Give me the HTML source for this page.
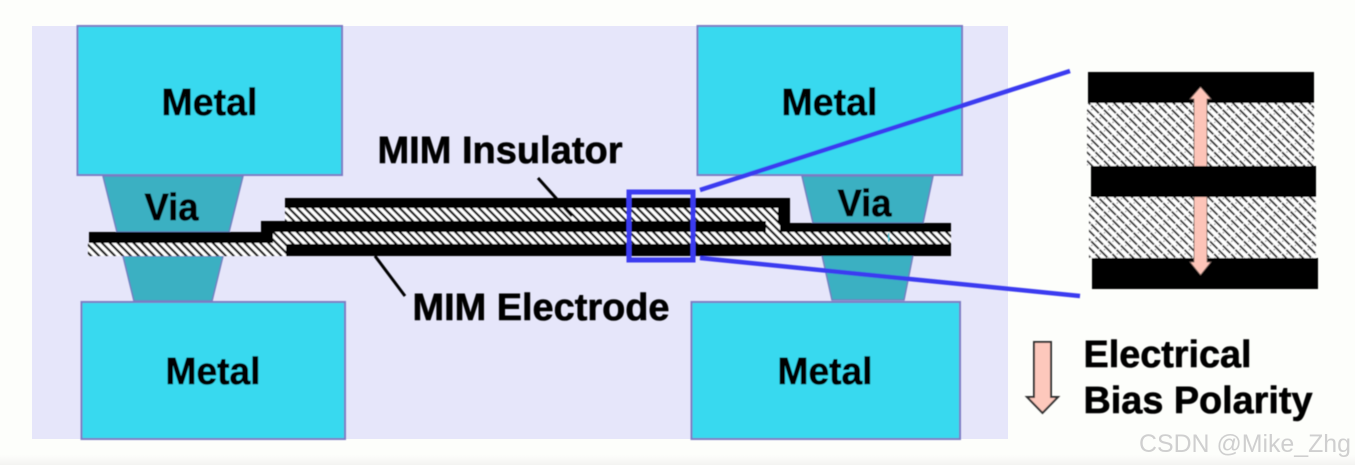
<!DOCTYPE html>
<html>
<head>
<meta charset="utf-8">
<style>
html,body{margin:0;padding:0;background:#fdfefb;width:1355px;height:465px;overflow:hidden}
svg{display:block}
text{font-family:"Liberation Sans",sans-serif;font-weight:bold;fill:#050505}
.t{stroke:#050505;stroke-width:0.6px}
</style>
</head>
<body>
<svg width="1355" height="465" viewBox="0 0 1355 465" xmlns="http://www.w3.org/2000/svg">
<defs>
<pattern id="h" width="5.600" height="5.600" patternUnits="userSpaceOnUse" patternTransform="rotate(-45)">
<rect width="5.600" height="5.600" fill="#fff"/>
<rect x="0" width="2.300" height="5.600" fill="#111"/>
</pattern>
<pattern id="h2" width="6" height="12" patternUnits="userSpaceOnUse" patternTransform="rotate(-45)">
<rect width="6" height="12" fill="#fff"/>
<rect x="0" width="1.900" height="12" fill="#222"/>
<rect x="0" y="5" width="1.900" height="1.200" fill="#fff"/>
<rect x="3.900" y="9" width="1.100" height="1.100" fill="#555"/>
</pattern>
<linearGradient id="fade" x1="0" y1="0" x2="0" y2="1">
<stop offset="0" stop-color="#fdfefb"/>
<stop offset="1" stop-color="#f4f4f2"/>
</linearGradient>
<filter id="b" x="-2%" y="-2%" width="104%" height="104%"><feGaussianBlur stdDeviation="0.6"/></filter>
</defs>
<rect x="0" y="455" width="1355" height="10" fill="url(#fade)"/>
<rect x="32" y="26" width="976" height="413" fill="#e6e6fa"/>
<g filter="url(#b)">
<!-- vias -->
<g fill="#3ab0c2" stroke="#6f7fc0" stroke-width="1.500">
<polygon points="103,176 243,176 229,232 117,232"/>
<polygon points="123,256 223,256 212,301 134,301"/>
<polygon points="802,176 933,176 923,223 813,223"/>
<polygon points="822,255 913,255 904,300 832,300"/>
</g>
<!-- metals -->
<g fill="#38d9ef" stroke="#7b7bc4" stroke-width="2">
<rect x="77.500" y="26" width="264.500" height="149"/>
<rect x="697.500" y="26" width="264.500" height="149"/>
<rect x="81.500" y="302" width="263.500" height="137"/>
<rect x="691.500" y="302" width="268.500" height="137"/>
</g>
<!-- stack -->
<rect x="88" y="243" width="198" height="13" fill="url(#h)"/>
<rect x="285" y="208" width="493" height="14" fill="url(#h)"/>
<rect x="273" y="232" width="678" height="12" fill="url(#h)"/>
<rect x="766" y="222" width="14" height="10" fill="url(#h)"/>
<g fill="#000">
<rect x="89" y="232" width="184" height="11"/>
<rect x="261" y="221" width="505" height="11"/>
<rect x="261" y="221" width="12" height="22"/>
<rect x="285" y="198" width="505" height="10"/>
<rect x="778" y="198" width="12" height="25"/>
<rect x="780" y="223" width="171" height="9"/>
<rect x="286" y="244" width="665" height="12"/>
</g>
<rect x="888" y="233" width="1.500" height="9" fill="#38c0d0"/>
<!-- leaders -->
<line x1="538" y1="178" x2="572" y2="216" stroke="#000" stroke-width="3"/>
<line x1="375" y1="256" x2="405" y2="296" stroke="#000" stroke-width="3"/>
<!-- zoom box -->
<rect x="629" y="192" width="64" height="68" fill="none" stroke="#3a3af0" stroke-width="5"/>
<line x1="700" y1="190" x2="1070" y2="71" stroke="#3a3af0" stroke-width="4.500"/>
<line x1="700" y1="258" x2="1080" y2="296" stroke="#3a3af0" stroke-width="4.500"/>
<!-- detail -->
<rect x="1087" y="103" width="227" height="63" fill="url(#h2)"/>
<rect x="1089" y="197" width="227" height="61" fill="url(#h2)"/>
<rect x="1088" y="72" width="226" height="31" fill="#000"/>
<rect x="1092" y="258" width="226" height="31" fill="#000"/>
<polygon points="1200.500,87 1211,99 1207,99 1207,262 1211,262 1200.500,275 1190,262 1194,262 1194,99 1190,99" fill="#fdc4b8" stroke="#6b5a55" stroke-width="0.800"/>
<rect x="1091" y="166" width="225" height="31" fill="#000"/>
<!-- legend arrow -->
<polygon points="1034,342 1051,342 1051,397 1058,397 1042.500,413 1027,397 1034,397" fill="#fdc8bc" stroke="#333" stroke-width="2"/>
<!-- labels -->
<text class="t" x="161.500" y="115" font-size="38" textLength="96" lengthAdjust="spacingAndGlyphs">Metal</text>
<text class="t" x="781.500" y="115" font-size="38" textLength="96" lengthAdjust="spacingAndGlyphs">Metal</text>
<text class="t" x="165.500" y="384" font-size="38" textLength="95" lengthAdjust="spacingAndGlyphs">Metal</text>
<text class="t" x="777.500" y="384" font-size="38" textLength="95" lengthAdjust="spacingAndGlyphs">Metal</text>
<text class="t" x="144.500" y="220" font-size="38" textLength="54" lengthAdjust="spacingAndGlyphs">Via</text>
<text class="t" x="837.500" y="216" font-size="38" textLength="54" lengthAdjust="spacingAndGlyphs">Via</text>
<text class="t" x="377.500" y="163" font-size="38" textLength="245" lengthAdjust="spacingAndGlyphs">MIM Insulator</text>
<text class="t" x="412.500" y="320" font-size="38" textLength="257" lengthAdjust="spacingAndGlyphs">MIM Electrode</text>
<text class="t" x="1083.500" y="367" font-size="38" textLength="168" lengthAdjust="spacingAndGlyphs">Electrical</text>
<text class="t" x="1083.500" y="413" font-size="38" textLength="229" lengthAdjust="spacingAndGlyphs">Bias Polarity</text>
</g>
<text x="1139" y="452" font-size="25" textLength="212" lengthAdjust="spacingAndGlyphs" style="font-weight:normal;fill:#cfcfcf">CSDN @Mike_Zhg</text>
</svg>
</body>
</html>
